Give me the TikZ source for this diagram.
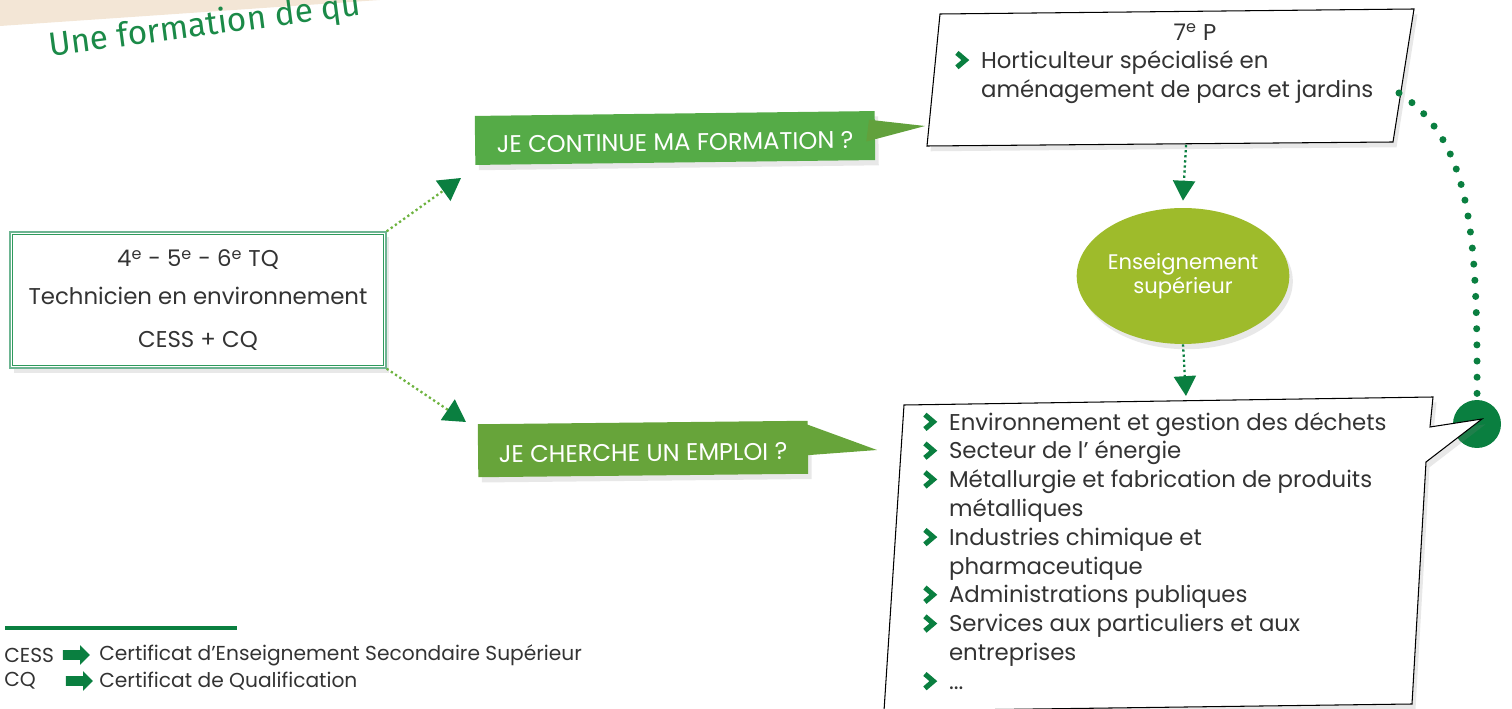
\documentclass[tikz,border=0pt]{standalone}
\usepackage{fontspec}
\setmainfont{Poppins}
\newfontfamily\handfont{Fira Sans}
\usetikzlibrary{arrows.meta, shapes.geometric, shapes.arrows, shadows}

\definecolor{dkgreen}{HTML}{0A7F40}
\definecolor{ltgreen}{HTML}{6DB33F}
\definecolor{banA}{HTML}{55AB47}
\definecolor{banB}{HTML}{67A43A}
\definecolor{ptA}{HTML}{62A13C}
\definecolor{olive}{HTML}{9EBB2B}
\definecolor{tqout}{HTML}{6DB592}
\definecolor{tqin}{HTML}{2E9A5C}
\definecolor{txtgray}{HTML}{333333}
\definecolor{beige}{HTML}{F3E6D6}
\definecolor{titlegreen}{HTML}{1B8A48}

\newcommand{\puce}{\tikz[baseline=0pt, x=1pt, y=1pt]
  \draw[dkgreen, line width=2.9pt, line join=miter] (0.6,0.6) -- (5.4,4.7) -- (0.6,8.8);}

\begin{document}
\begin{tikzpicture}[x=0.02cm, y=-0.02cm, font=\fontsize{13}{16.4}\selectfont, text=txtgray,
  soft shadow/.style={drop shadow={shadow xshift=2pt, shadow yshift=-3pt, opacity=.18}},
  tq box/.style={rectangle, draw=tqout, line width=0.8pt, fill=white,
    minimum width=7.52cm, minimum height=2.72cm, align=center, soft shadow},
  banner/.style={rectangle, text=white, inner sep=0pt, text depth=0pt, soft shadow,
    font=\fontsize{13.7}{16}\selectfont},
  paper/.style={draw=black, line width=0.6pt, fill=white, soft shadow},
  light dots/.style={draw=ltgreen, line width=1.3pt, dash pattern=on 1.3pt off 1.6pt,
    -{Triangle[width=14pt, length=12.5pt, color=dkgreen]}},
  dark dots/.style={draw=dkgreen, line width=1.3pt, dash pattern=on 1.3pt off 1.6pt,
    -{Triangle[width=12.5pt, length=11.3pt]}},
  big dots/.style={draw=dkgreen, line width=4pt, line cap=round, dash pattern=on 0pt off 9.2pt},
  leg arrow/.style={single arrow, fill=dkgreen, inner sep=2.6pt, single arrow head extend=2.8pt,
    minimum height=0.54cm},
  leg text/.style={anchor=west, inner sep=0pt, font=\fontsize{11.5}{13}\selectfont}]
  \useasboundingbox (0,0) rectangle (1512,709);

  % corner and title
  \fill[beige] (0,0) -- (380,0) -- (0,26) -- cycle;
  \node[rotate=7.5, anchor=base west, text=titlegreen, font=\handfont\fontsize{19}{19}\selectfont]
    (slogan) at (44,57) {Une formation de qu};

  % left box
  \node[tq box] (tq) at (198,300) {4\textsuperscript{e} - 5\textsuperscript{e} - 6\textsuperscript{e} TQ\\[5pt]
    Technicien en environnement\\[8pt] CESS + CQ};
  \draw[tqin, line width=0.6pt] ([shift={(3,3)}]tq.north west) rectangle ([shift={(-3,-3)}]tq.south east);

  % 7e P box
  \coordinate (b7 nw) at (940,14);
  \coordinate (b7 ne) at (1414,9);
  \coordinate (b7 se) at (1393,142);
  \coordinate (b7 sw) at (927,146);
  \coordinate (b7 s) at (1186,145);
  \coordinate (b7 e) at (1399,93);
  \coordinate (b7 w) at (925,126);
  \draw[paper] (b7 nw) -- (b7 ne) -- (b7 se) -- (b7 sw) -- cycle;
  \node (grade) at (1195,32) {7\textsuperscript{e} P};
  \node[anchor=west, inner sep=0pt] (horti) at (954,77) {\begin{tabular}{@{}l@{\hspace{7.5pt}}l@{}}
    \puce & Horticulteur spécialisé en\\
          & aménagement de parcs et jardins
  \end{tabular}};

  % green ring and job box
  \node[circle, fill=dkgreen, minimum size=0.96cm, inner sep=0pt] (ring) at (1477,424) {};
  \coordinate (jb nw) at (904,405);
  \coordinate (jb ne) at (1433,397);
  \coordinate (jb p1) at (1430,427);
  \coordinate (jb tip) at (1482,419);
  \coordinate (jb p2) at (1426,462);
  \coordinate (jb se) at (1412,704);
  \coordinate (jb sw) at (884,711);
  \coordinate (jb n) at (1186,396);
  \draw[paper] (jb nw) -- (jb ne) -- (jb p1) -- (jb tip) -- (jb p2) -- (jb se) -- (jb sw) -- cycle;
  \node[anchor=west, inner sep=0pt] (jobs) at (922,554) {\begin{tabular}{@{}l@{\hspace{7.5pt}}l@{}}
    \puce & Environnement et gestion des déchets\\
    \puce & Secteur de l’ énergie\\
    \puce & Métallurgie et fabrication de produits\\
          & métalliques\\
    \puce & Industries chimique et\\
          & pharmaceutique\\
    \puce & Administrations publiques\\
    \puce & Services aux particuliers et aux\\
          & entreprises\\
    \puce & ...
  \end{tabular}};

  % higher education
  \node[ellipse, fill=olive, text=white, minimum width=3.8cm, minimum height=2.72cm, align=center,
    inner sep=0pt, soft shadow, font=\fontsize{12}{13.5}\selectfont] (sup) at (1183,276) {Enseignement\\supérieur};

  % banners
  \node[banner, fill=banA, minimum width=8cm, minimum height=0.98cm, text height=14.5pt, rotate=0.7] (cont)
    at (675,138) {JE CONTINUE MA FORMATION ?};
  \fill[ptA] ([shift={(-6,9)}]cont.north east) -- (b7 w) -- ([shift={(-9,6)}]cont.east) -- cycle;
  \coordinate (emploi tip) at (877,450);
  \node[banner, fill=banB, minimum width=6.6cm, minimum height=1.06cm, text height=14pt, rotate=0.6] (job)
    at (643,449) {JE CHERCHE UN EMPLOI ?};
  \fill[banB] ([shift={(-1,4)}]job.north east) -- (emploi tip) -- ([shift={(-2,8)}]job.east) -- cycle;

  % connectors
  \coordinate (up tip) at (461,178);
  \coordinate (down tip) at (466,422);
  \path (tq.north east) edge[light dots] (up tip)
        (tq.south east) edge[light dots] (down tip);
  \path (b7 s) edge[dark dots] ([yshift=4pt]sup.north)
        (sup.south) edge[dark dots] (jb n);
  \draw[big dots] (b7 e) .. controls (1470,140) and (1478,230) .. (ring.north);

  % legend
  \draw[dkgreen, line width=2.3pt] (5,628) -- (237,628);
  \node[leg text] (cess) at (4,655) {CESS};
  \node[leg arrow] (cess arrow) at (74,655) {};
  \node[leg text] (cess def) at (99,655) {Certificat d’Enseignement Secondaire Supérieur};
  \node[leg text] (cq) at (4,681) {CQ};
  \node[leg arrow] (cq arrow) at (77,681) {};
  \node[leg text] (cq def) at (99,681) {Certificat de Qualification};
\end{tikzpicture}
\end{document}
